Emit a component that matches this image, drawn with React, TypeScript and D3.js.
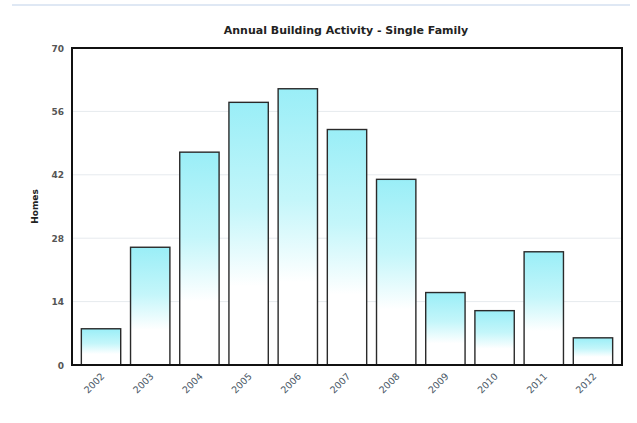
import React from "react";
import * as d3 from "d3";

const years = ["2002","2003","2004","2005","2006","2007","2008","2009","2010","2011","2012"];
const homes = [8, 26, 47, 58, 61, 52, 41, 16, 12, 25, 6];
const yTicks = [0, 14, 28, 42, 56, 70];
const title = "Annual Building Activity - Single Family";
const yLabel = "Homes";

export default function App() {
  const W = 637, H = 423;
  const left = 72, right = 622, top = 48, bottom = 365;
  const x = d3.scaleBand<string>().domain(years).range([left, right]).paddingInner(0.2).paddingOuter(0.19);
  const y = d3.scaleLinear().domain([0, 70]).range([bottom, top]);
  const font = "'DejaVu Sans', Verdana, sans-serif";
  return (
    <svg width={W} height={H} style={{ position: "absolute", left: 0, top: 0, background: "#fff" }}>
      <defs>
        <linearGradient id="barg" x1="0" y1="0" x2="0" y2="1">
          <stop offset="0" stopColor="#9aeef7" />
          <stop offset="0.4" stopColor="#c4f6fa" />
          <stop offset="0.7" stopColor="#ffffff" />
          <stop offset="1" stopColor="#ffffff" />
        </linearGradient>
      </defs>
      <line x1={12} x2={630} y1={5} y2={5} stroke="#dfe8f4" strokeWidth={2} />
      <text x={346} y={34} textAnchor="middle" fontFamily={font} fontWeight="bold" fontSize={11} fill="#222">{title}</text>
      {yTicks.filter(t => t > 0 && t < 70).map(t => (
        <line key={"g" + t} x1={left} x2={right} y1={y(t)} y2={y(t)} stroke="#e6eaee" strokeWidth={1} />
      ))}
      {years.map((yr, i) => (
        <rect key={yr} x={x(yr)} y={y(homes[i])} width={x.bandwidth()} height={bottom - y(homes[i])}
          fill="url(#barg)" stroke="#2a2a2a" strokeWidth={1.4} />
      ))}
      <rect x={left} y={top} width={right - left} height={bottom - top} fill="none" stroke="#111" strokeWidth={2} />
      {yTicks.map(t => (
        <text key={"t" + t} x={left - 8} y={y(t) + 3.5} textAnchor="end" fontFamily={font} fontWeight="bold" fontSize={9} fill="#555">{t}</text>
      ))}
      <text transform={`translate(38,${(top + bottom) / 2}) rotate(-90)`} textAnchor="middle" fontFamily={font} fontWeight="bold" fontSize={9} fill="#222">{yLabel}</text>
      {years.map(yr => {
        const cx = (x(yr) as number) + x.bandwidth() / 2;
        return (
          <text key={"x" + yr} transform={`translate(${cx + 4},${bottom + 12}) rotate(-45)`} textAnchor="end"
            fontFamily={font} fontSize={9.5} fill="#4a5866">{yr}</text>
        );
      })}
    </svg>
  );
}
